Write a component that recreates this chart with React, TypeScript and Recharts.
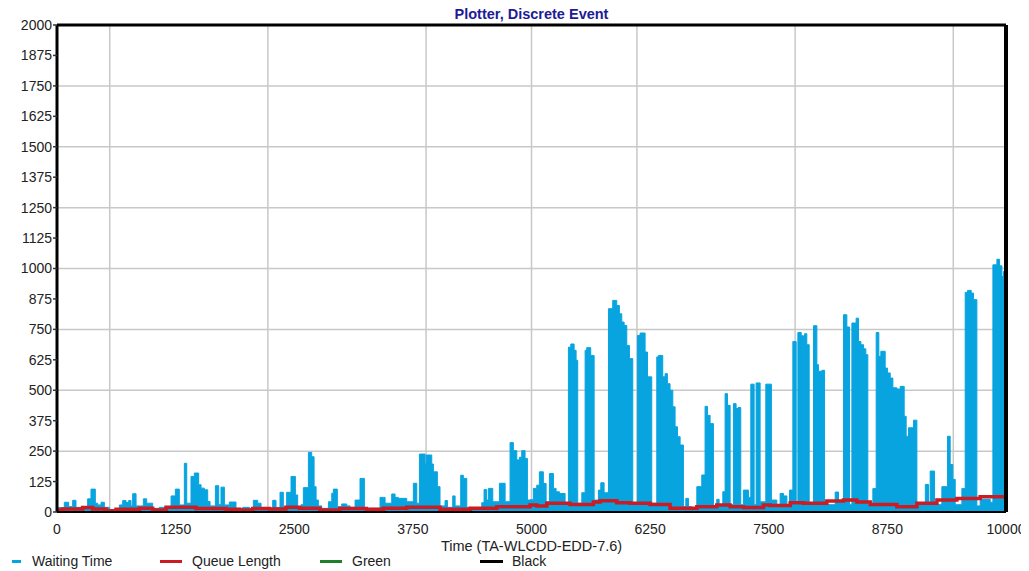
import React from 'react';
import { ComposedChart, Area, Line, XAxis, YAxis, CartesianGrid, Legend } from 'recharts';

// Waiting Time: step breakpoints (time, value)
const waitT = [
  0, 77, 123, 165, 200, 323, 358, 404, 429, 464, 499, 552, 657, 692, 727, 755, 780, 797, 833, 910,
  945, 1008, 1079, 1202, 1247, 1289, 1342, 1367, 1412, 1447, 1493, 1518, 1553, 1588, 1613, 1669, 1704, 1728, 1764, 1816,
  1886, 1957, 2027, 2069, 2115, 2150, 2273, 2308, 2350, 2385, 2420, 2466, 2512, 2536, 2572, 2596,
  2649, 2684, 2709, 2730, 2754, 2789, 2860, 2895, 2912, 2954, 3000, 3053, 3088, 3141, 3193, 3239, 3299, 3404, 3457, 3527,
  3562, 3597, 3685, 3755, 3791, 3819, 3878, 3889, 3949, 3966, 4008, 4036, 4089, 4114, 4170, 4195, 4254, 4282, 4318, 4353,
  4476, 4500, 4528, 4546, 4592, 4662, 4722, 4774, 4809, 4845, 4873, 4897, 4932, 4957,
  4985, 5020, 5055, 5083, 5125, 5154, 5189, 5231, 5259, 5294, 5354, 5389, 5414, 5449, 5470, 5487, 5530, 5565, 5582, 5624,
  5660, 5705, 5730, 5765, 5811, 5856, 5898, 5926, 5951, 5976, 6004, 6032, 6067, 6116, 6144, 6197, 6222, 6267, 6320, 6338,
  6383, 6408, 6432, 6460, 6489, 6513, 6538, 6566, 6601, 6626, 6654, 6689, 6742, 6794, 6829, 6854, 6882, 6917, 6952, 6977,
  7016, 7040, 7065, 7093, 7128, 7156, 7177, 7205, 7233, 7286, 7311, 7346, 7367, 7409, 7469, 7528,
  7585, 7620, 7656, 7691, 7719, 7754, 7789, 7807, 7842, 7866, 7877, 7901, 7926, 7972, 8007, 8024, 8060, 8088, 8200, 8235,
  8288, 8323, 8351, 8376, 8421, 8446, 8471, 8499, 8523, 8544, 8597, 8632, 8660, 8681, 8727, 8752, 8780, 8808, 8850, 8885,
  8927, 8948, 8973, 9026, 9061, 9150, 9184, 9201, 9247, 9324, 9384, 9412, 9440, 9465, 9535, 9570, 9595, 9633, 9658, 9693,
  9728, 9834, 9862, 9904, 9932, 9957, 9974, 10000,
];
const waitV = [
  18, 40, 22, 48, 19, 54, 94, 36, 29, 40, 19, 8, 29, 47, 39, 47, 25, 75, 25, 54,
  36, 15, 19, 66, 94, 29, 200, 36, 146, 160, 112, 98, 91, 43, 25, 108, 30, 102, 29, 41,
  15, 19, 15, 48, 36, 15, 48, 19, 81, 22, 81, 146, 70, 19, 30, 100,
  245, 227, 104, 49, 25, 15, 42, 77, 94, 22, 33, 25, 19, 49, 138, 11, 15, 60, 36, 74,
  60, 56, 42, 118, 36, 238, 197, 234, 197, 165, 104, 25, 47, 19, 66, 25, 151, 138, 19, 15,
  38, 92, 49, 97, 42, 118, 42, 285, 252, 214, 225, 252, 220, 49,
  50, 97, 110, 165, 117, 42, 158, 97, 83, 76, 36, 677, 690, 664, 623, 36, 79, 664, 675, 643,
  49, 90, 120, 79, 835, 869, 848, 814, 780, 766, 684, 630, 36, 725, 735, 657, 555, 36, 637, 643,
  555, 568, 527, 500, 432, 350, 309, 275, 22, 56, 22, 15, 104, 152, 434, 397, 363, 15, 52, 22,
  83, 486, 438, 30, 445, 425, 429, 30, 90, 60, 525, 30, 530, 42, 525, 49,
  31, 76, 66, 30, 90, 700, 30, 737, 724, 30, 732, 687, 30, 765, 605, 578, 582, 30, 82, 40,
  810, 760, 30, 776, 796, 700, 687, 670, 646, 30, 96, 737, 639, 660, 591, 571, 550, 510, 505, 516,
  393, 311, 346, 377, 31, 113, 30, 168, 30, 104, 311, 195, 134, 30, 96, 902, 910, 899, 872, 25,
  52, 40, 1015, 1038, 1011, 967, 988, 988,
];

// Queue Length: step breakpoints (time, value)
const queueT = [
  0, 60, 270, 376, 516, 622, 868, 1008, 1149, 1465, 1781, 1922, 2062, 2238, 2413, 2554,
  2770, 2980, 3260, 3440, 3685, 4035, 4355, 4635, 4985,
  5055, 5161, 5407, 5652, 5723, 5898, 6039, 6250, 6460, 6742, 6952, 7093, 7233, 7444,
  7515, 7726, 7866, 8112, 8288, 8428, 8569, 8850, 9061, 9272, 9482, 9728, 10000,
];
const queueV = [
  8, 12, 18, 12, 5, 11, 15, 8, 19, 14, 11, 8, 14, 12, 19, 15,
  8, 14, 11, 15, 19, 11, 15, 22, 29,
  25, 36, 31, 41, 46, 38, 36, 31, 15, 22, 29, 22, 18, 29,
  27, 38, 36, 45, 49, 41, 31, 22, 36, 49, 55, 63, 63,
];

const xTicks = [0, 1250, 2500, 3750, 5000, 6250, 7500, 8750, 10000];
const yTicks = [0, 125, 250, 375, 500, 625, 750, 875, 1000, 1125, 1250, 1375, 1500, 1625, 1750, 1875, 2000];
const yGrid = [250, 500, 750, 1000, 1250, 1500, 1750];

const legendNames = ['Waiting Time', 'Queue Length', 'Green', 'Black'];
const legendColors = ['#08a4e0', '#cc1b22', '#1f7f2a', '#000000'];

const chartTitle = 'Plotter, Discrete Event';
const xTitle = 'Time (TA-WLCDD-EDD-7.6)';

function stepValue(ts: number[], vs: number[], t: number): number {
  let v = vs[0];
  for (let i = 0; i < ts.length; i++) {
    if (ts[i] <= t) v = vs[i];
    else break;
  }
  return v;
}

const allT = Array.from(new Set([...waitT, ...queueT])).sort((a, b) => a - b);
const data = allT.map((t) => ({
  t,
  wait: stepValue(waitT, waitV, t),
  queue: stepValue(queueT, queueV, t),
}));

const xGrid = Array.from({ length: 17 }, (_, i) => ((i + 1) * 10000) / 18);
const topTicks = Array.from({ length: 33 }, (_, i) => i * 312.5);
const minorY = Array.from({ length: 33 }, (_, i) => i * 62.5);
const minorYOdd = minorY.filter((_, i) => i % 2 === 1);

const W = 1029;
const H = 571;
const FONT = '"Liberation Sans", Arial, sans-serif';

const legendX = [12, 160, 320, 480];
const legendLen = [9, 22, 22, 23];
const legendTextX = [32, 192, 352, 512];

function LegendContent() {
  return (
    <svg width={W} height={22} style={{ display: 'block', overflow: 'visible' }}>
      {legendNames.map((n, i) => (
        <g key={n}>
          <line
            x1={legendX[i]}
            x2={legendX[i] + legendLen[i]}
            y1={10.5}
            y2={10.5}
            stroke={legendColors[i]}
            strokeWidth={3}
          />
          <text x={legendTextX[i]} y={15} fontSize={14} fill="#222" fontFamily={FONT}>
            {n}
          </text>
        </g>
      ))}
    </svg>
  );
}

export default function App() {
  return (
    <div style={{ position: 'relative', left: -8, top: -8, width: W, height: H, fontFamily: FONT }}>
      <ComposedChart
        width={W}
        height={H}
        data={data}
        margin={{ top: 25, right: 23, bottom: 19, left: 0 }}
      >
        <CartesianGrid
          xAxisId="main"
          yAxisId="left"
          horizontalValues={yGrid}
          verticalValues={xGrid}
          stroke="#c8c8c8"
          strokeWidth={1.5}
        />
        <XAxis
          xAxisId="main"
          dataKey="t"
          type="number"
          domain={[0, 10000]}
          ticks={xTicks}
          allowDataOverflow
          height={40}
          tickLine={false}
          tickSize={4}
          tickMargin={8}
          axisLine={{ stroke: '#000', strokeWidth: 2 }}
          tick={{ fill: '#222', fontSize: 14, fontFamily: FONT }}
          label={{ value: xTitle, position: 'insideBottom', offset: 1, fill: '#222', fontSize: 14.5, fontFamily: FONT }}
        />
        <XAxis
          xAxisId="top"
          orientation="top"
          type="number"
          domain={[0, 10000]}
          ticks={topTicks}
          mirror
          tick={false}
          tickSize={4}
          tickLine={{ stroke: '#1f7f2a', strokeWidth: 1.5 }}
          axisLine={{ stroke: '#000', strokeWidth: 3 }}
        />
        <YAxis
          yAxisId="left"
          type="number"
          domain={[0, 2000]}
          ticks={yTicks}
          interval={0}
          width={57}
          tickSize={4}
          tickMargin={1}
          tickLine={{ stroke: '#333', strokeWidth: 1.5 }}
          axisLine={{ stroke: '#000', strokeWidth: 3 }}
          tick={{ fill: '#222', fontSize: 14, fontFamily: FONT }}
        />
        <YAxis
          yAxisId="leftMinor"
          type="number"
          domain={[0, 2000]}
          ticks={minorYOdd}
          interval={0}
          mirror
          tick={false}
          tickSize={5}
          tickLine={{ stroke: '#1f7f2a', strokeWidth: 1.5 }}
          axisLine={false}
        />
        <YAxis
          yAxisId="right"
          orientation="right"
          type="number"
          domain={[0, 2000]}
          ticks={minorY}
          interval={0}
          mirror
          tick={false}
          tickSize={4}
          tickLine={{ stroke: '#1f5f2a', strokeWidth: 1.5 }}
          axisLine={{ stroke: '#000', strokeWidth: 4 }}
        />
        <Area
          xAxisId="main"
          yAxisId="left"
          type="stepAfter"
          dataKey="wait"
          name="Waiting Time"
          stroke="#08a4e0"
          strokeWidth={1}
          fill="#08a4e0"
          fillOpacity={1}
          isAnimationActive={false}
        />
        <Line
          xAxisId="main"
          yAxisId="left"
          type="stepAfter"
          dataKey="queue"
          name="Queue Length"
          stroke="#cc1b22"
          strokeWidth={3.5}
          dot={false}
          isAnimationActive={false}
        />
        <Legend
          layout="vertical"
          verticalAlign="middle"
          align="center"
          content={() => <LegendContent />}
          wrapperStyle={{ position: 'absolute', left: 0, top: 551, width: W, height: 22 }}
        />
        <text
          x={531.5}
          y={19}
          textAnchor="middle"
          fontSize={14.5}
          fontWeight="bold"
          fill="#1c1c96"
          fontFamily={FONT}
        >
          {chartTitle}
        </text>
      </ComposedChart>
    </div>
  );
}
